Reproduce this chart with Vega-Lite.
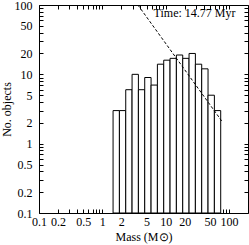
{
  "$schema": "https://vega.github.io/schema/vega-lite/v6.json",
  "width": 209,
  "height": 208,
  "autosize": {"type": "none"},
  "padding": {"left": 39, "top": 5, "right": 1, "bottom": 32},
  "background": "white",
  "config": {
    "view": {"stroke": "black", "strokeWidth": 1},
    "font": "Liberation Serif",
    "axis": {
      "domain": false,
      "grid": false,
      "tickSize": -4,
      "tickColor": "black",
      "labelColor": "black",
      "labelFontSize": 12,
      "titleFontSize": 12,
      "titleFontWeight": "normal",
      "titleColor": "black",
      "labelFlush": false,
      "labelOverlap": false,
      "format": "~g"
    }
  },
  "datasets": {
    "hist": [
      {"lo": 1.479, "hi": 1.862, "count": 3},
      {"lo": 1.862, "hi": 2.344, "count": 3},
      {"lo": 2.344, "hi": 2.951, "count": 6},
      {"lo": 2.951, "hi": 3.715, "count": 10},
      {"lo": 3.715, "hi": 4.677, "count": 6},
      {"lo": 4.677, "hi": 5.888, "count": 9},
      {"lo": 5.888, "hi": 7.413, "count": 7},
      {"lo": 7.413, "hi": 9.333, "count": 14},
      {"lo": 9.333, "hi": 11.75, "count": 16},
      {"lo": 11.75, "hi": 14.79, "count": 17},
      {"lo": 14.79, "hi": 18.62, "count": 19},
      {"lo": 18.62, "hi": 23.44, "count": 17},
      {"lo": 23.44, "hi": 29.51, "count": 20},
      {"lo": 29.51, "hi": 37.15, "count": 14},
      {"lo": 37.15, "hi": 46.77, "count": 12},
      {"lo": 46.77, "hi": 58.88, "count": 5},
      {"lo": 58.88, "hi": 74.13, "count": 3}
    ],
    "imf": [
      {"mass": 3.65, "n": 100},
      {"mass": 77.6, "n": 2.1}
    ],
    "note": [
      {"label": "Time: 14.77 Myr", "mass": 127, "n": 76.7}
    ]
  },
  "layer": [
    {
      "data": {"name": "hist"},
      "mark": {"type": "rect", "fill": "white", "stroke": "black", "strokeWidth": 1},
      "encoding": {
        "x": {
          "field": "lo", "type": "quantitative",
          "scale": {"type": "log", "domain": [0.1, 200], "nice": false},
          "axis": {
            "orient": "bottom",
            "title": "Mass (M⊙)",
            "labelPadding": 7,
            "titlePadding": 4,
            "values": [0.1,0.2,0.3,0.4,0.5,0.6,0.7,0.8,0.9,1,2,3,4,5,6,7,8,9,10,20,30,40,50,60,70,80,90,100],
            "labelExpr": "indexof([0.1,0.2,0.5,1,2,5,10,20,50,100], datum.value) >= 0 ? datum.label : ''"
          }
        },
        "x2": {"field": "hi"},
        "y": {
          "field": "count", "type": "quantitative",
          "scale": {"type": "log", "domain": [0.1, 100], "nice": false},
          "axis": {
            "orient": "left",
            "title": "No. objects",
            "labelPadding": 11,
            "titlePadding": 1,
            "values": [0.1,0.2,0.3,0.4,0.5,0.6,0.7,0.8,0.9,1,2,3,4,5,6,7,8,9,10,20,30,40,50,60,70,80,90,100],
            "labelExpr": "indexof([0.1,0.2,0.5,1,2,5,10,20,50,100], datum.value) >= 0 ? datum.label : ''"
          }
        },
        "y2": {"datum": 0.1}
      }
    },
    {
      "data": {"name": "imf"},
      "mark": {"type": "line", "color": "black", "strokeWidth": 1, "strokeDash": [3, 2]},
      "encoding": {
        "x": {
          "field": "mass", "type": "quantitative",
          "axis": {
            "orient": "top", "title": null, "labels": false,
            "values": [0.1,0.2,0.3,0.4,0.5,0.6,0.7,0.8,0.9,1,2,3,4,5,6,7,8,9,10,20,30,40,50,60,70,80,90,100]
          }
        },
        "y": {
          "field": "n", "type": "quantitative",
          "axis": {
            "orient": "right", "title": null, "labels": false,
            "values": [0.1,0.2,0.3,0.4,0.5,0.6,0.7,0.8,0.9,1,2,3,4,5,6,7,8,9,10,20,30,40,50,60,70,80,90,100]
          }
        }
      }
    },
    {
      "data": {"name": "note"},
      "mark": {"type": "text", "align": "right", "baseline": "middle", "fontSize": 12, "color": "black"},
      "encoding": {
        "x": {"field": "mass", "type": "quantitative", "axis": null},
        "y": {"field": "n", "type": "quantitative", "axis": null},
        "text": {"field": "label"}
      }
    }
  ],
  "resolve": {"axis": {"x": "independent", "y": "independent"}}
}
